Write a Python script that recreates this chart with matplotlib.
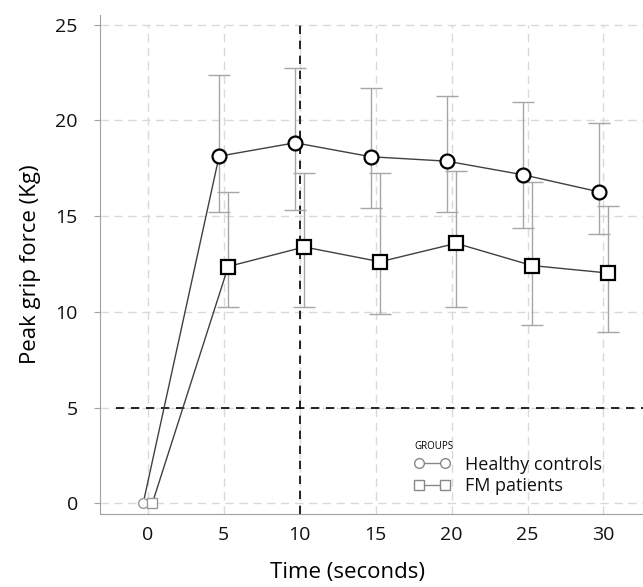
import matplotlib.pyplot as plt
from matplotlib.lines import Line2D

# data
time_s = [0, 5, 10, 15, 20, 25, 30]
hc_mean = [0, 18.13, 18.83, 18.10, 17.87, 17.16, 16.27]
hc_low = [0, 15.24, 15.34, 15.41, 15.22, 14.40, 14.07]
hc_high = [0, 22.36, 22.76, 21.68, 21.27, 20.94, 19.86]
fm_mean = [0, 12.37, 13.39, 12.62, 13.58, 12.42, 12.03]
fm_low = [0, 10.28, 10.28, 9.88, 10.26, 9.34, 8.94]
fm_high = [0, 16.28, 17.24, 17.24, 17.37, 16.79, 15.55]
xticks = [0, 5, 10, 15, 20, 25, 30]
yticks = [0, 5, 10, 15, 20, 25]
shift = 0.3

plt.rcParams['font.family'] = ['Open Sans', 'DejaVu Sans']

fig = plt.figure(figsize=(6.43, 5.87), dpi=100)
ax = fig.add_axes([0.1555, 0.1244, 0.8445, 0.85])
ax.set_xlim(-3.14, 32.6)
ax.set_ylim(-0.55, 25.5)

# grid
ax.vlines(xticks, -0.55, 25, colors='#d9d9d9', linestyles=(0, (6, 4)), lw=1, zorder=0)
ax.hlines(yticks, -3.14, 32.6, colors='#d9d9d9', linestyles=(0, (6, 4)), lw=1, zorder=0)

# reference lines
ax.axvline(10, ymax=(25 + 0.55) / 26.05, color='black', ls=(0, (5, 4)), lw=1.2, zorder=1)
ax.axhline(5, xmin=0.03, color='black', ls=(0, (5, 4)), lw=1.2, zorder=1)

hx = [t - shift for t in time_s]
fx = [t + shift for t in time_s]

for xs, m, lo, hi in [(hx, hc_mean, hc_low, hc_high), (fx, fm_mean, fm_low, fm_high)]:
    err = [[a - b for a, b in zip(m[1:], lo[1:])], [b - a for a, b in zip(m[1:], hi[1:])]]
    ax.errorbar(xs[1:], m[1:], yerr=err, fmt='none', ecolor='#a6a6a6', elinewidth=1,
                capsize=8, capthick=1, zorder=2)

ax.plot(hx, hc_mean, color='#404040', lw=1, zorder=3)
ax.plot(fx, fm_mean, color='#404040', lw=1, zorder=3)
ax.plot(hx[1:], hc_mean[1:], ls='none', marker='o', ms=10, mfc='white', mec='black', mew=1.6, zorder=4)
ax.plot(fx[1:], fm_mean[1:], ls='none', marker='s', ms=10, mfc='white', mec='black', mew=1.6, zorder=4)
ax.plot(hx[:1], hc_mean[:1], ls='none', marker='o', ms=7, mfc='white', mec='#999999', mew=1, zorder=4)
ax.plot(fx[:1], fm_mean[:1], ls='none', marker='s', ms=7, mfc='white', mec='#999999', mew=1, zorder=4)

# spines
for s in ['top', 'right']:
    ax.spines[s].set_visible(False)
for s in ['left', 'bottom']:
    ax.spines[s].set_color('#a0a0a0')
ax.spines['left'].set_bounds(-0.55, 25.5)

ax.set_xticks(xticks)
ax.set_yticks(yticks)
ax.tick_params(axis='x', length=0, pad=9, labelsize=14, colors='#111111')
ax.tick_params(axis='y', length=4, pad=12, labelsize=14, colors='#111111', color='#a0a0a0')
ax.set_xlabel('Time (seconds)', fontsize=16)
ax.xaxis.set_label_coords(0.455, -0.097)
ax.set_ylabel('Peak grip force (Kg)', fontsize=16, labelpad=10)

handles = [
    Line2D([], [], color='#888888', lw=1, marker='o', ms=7, mfc='white', mec='#888888'),
    Line2D([], [], color='#888888', lw=1, marker='s', ms=7, mfc='white', mec='#888888'),
]
leg = ax.legend(handles, ['Healthy controls', 'FM patients'], title='GROUPS', numpoints=2,
                frameon=False, fontsize=13, title_fontsize=7, alignment='left',
                loc='lower left', bbox_to_anchor=(0.555, 0.012), handlelength=2.0,
                labelspacing=0.2, handletextpad=0.8, borderpad=0.2)
for t in leg.get_texts():
    t.set_color('#111111')

fig.savefig('out.png', dpi=100)
